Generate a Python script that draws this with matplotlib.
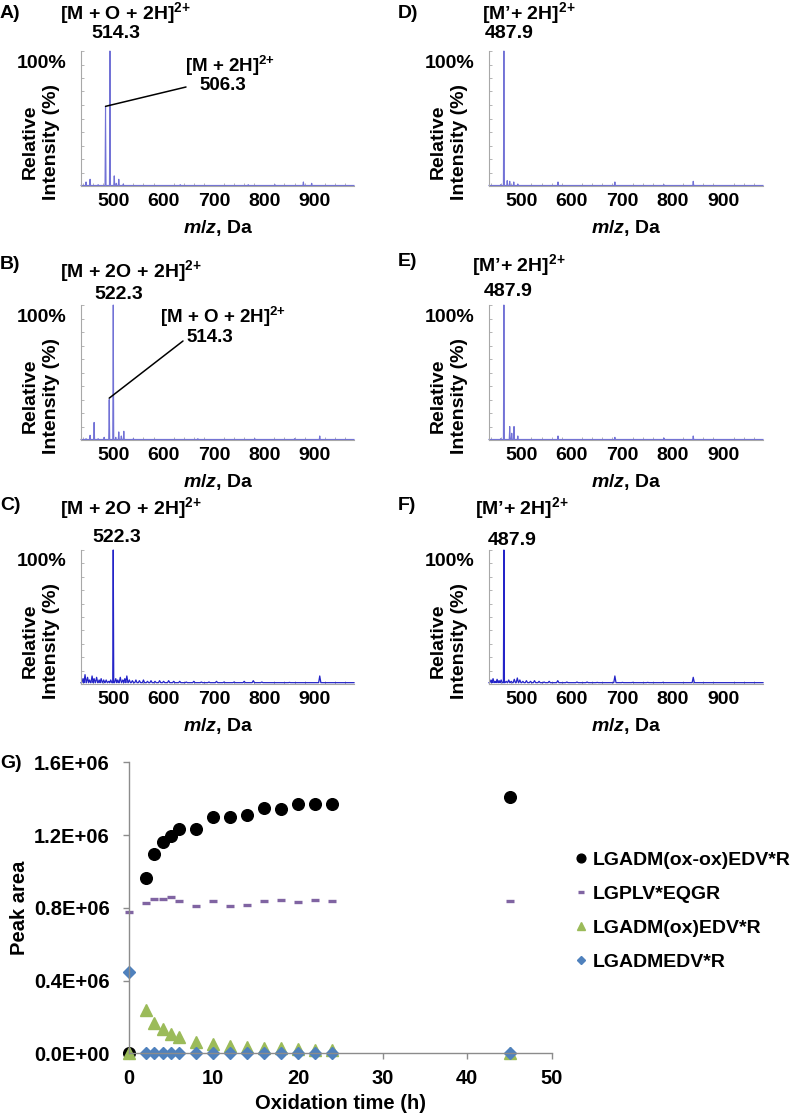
import numpy as np
import matplotlib
matplotlib.use('Agg')
import matplotlib.pyplot as plt

plt.rcParams['font.family'] = ['Liberation Sans', 'DejaVu Sans']
plt.rcParams['font.weight'] = 'bold'
plt.rcParams['mathtext.fontset'] = 'custom'
plt.rcParams['mathtext.rm'] = 'Liberation Sans:bold'
plt.rcParams['mathtext.it'] = 'Liberation Sans:italic:bold'
plt.rcParams['mathtext.bf'] = 'Liberation Sans:bold'

W, H = 793, 1118
XMIN, XMAX = 436, 978

# spectra: peak m/z (as drawn on the axis) and relative intensity
a_mz = [446, 454, 470, 484.7, 493.5, 502, 506, 511, 520, 633, 768, 821, 877.5, 894]
a_int = [0.03, 0.05, 0.01, 0.59, 1.00, 0.075, 0.02, 0.05, 0.015, 0.01, 0.01, 0.01, 0.03, 0.02]

b_mz = [446, 454, 462, 470, 482, 492, 500, 505, 511, 516, 521, 540, 668, 781, 860, 910]
b_int = [0.01, 0.035, 0.13, 0.01, 0.02, 0.30, 1.00, 0.02, 0.06, 0.03, 0.065, 0.01, 0.01, 0.01, 0.01, 0.03]

c_mz = [440, 444, 449, 453, 458, 462, 467, 472, 476, 481, 486, 491, 495, 500, 505, 509,
        514, 519, 523, 527, 532, 538, 545, 552, 560, 568, 575, 583, 592, 600, 610, 620,
        632, 645, 660, 675, 690, 705, 720, 740, 760, 778, 795, 820, 850, 880, 910, 940]
c_int = [0.04, 0.07, 0.05, 0.03, 0.06, 0.04, 0.05, 0.03, 0.04, 0.03, 0.03, 0.02, 0.03, 1.00, 0.04, 0.03,
         0.05, 0.03, 0.04, 0.06, 0.03, 0.025, 0.03, 0.025, 0.03, 0.02, 0.025, 0.02, 0.025, 0.02, 0.025, 0.02,
         0.02, 0.015, 0.02, 0.015, 0.015, 0.02, 0.015, 0.015, 0.02, 0.025, 0.015, 0.01, 0.012, 0.01, 0.06, 0.01]

d_mz = [459, 465.5, 472, 477, 485, 493, 572.5, 685, 782, 840]
d_int = [0.01, 1.00, 0.04, 0.035, 0.03, 0.015, 0.03, 0.03, 0.01, 0.035]

e_mz = [459, 465.5, 477, 481, 485.5, 493, 572.5, 685, 782, 840]
e_int = [0.01, 1.00, 0.10, 0.05, 0.10, 0.03, 0.03, 0.02, 0.015, 0.03]

f_mz = [440, 444, 448, 452, 456, 460, 465.5, 470, 475, 480, 486, 492, 497, 503, 510, 518,
        526, 535, 545, 555, 572, 590, 610, 630, 650, 685, 700, 720, 750, 780, 810, 840,
        870, 900, 940]
f_int = [0.03, 0.04, 0.02, 0.035, 0.025, 0.03, 1.00, 0.02, 0.03, 0.02, 0.035, 0.045, 0.03, 0.02, 0.025, 0.02,
         0.025, 0.02, 0.015, 0.02, 0.025, 0.015, 0.015, 0.015, 0.012, 0.06, 0.012, 0.012, 0.012, 0.012, 0.01, 0.05,
         0.01, 0.01, 0.01]

# G) peak area vs oxidation time
time_h = [0, 2, 3, 4, 5, 6, 8, 10, 12, 14, 16, 18, 20, 22, 24, 45]
ox_ox = [0, 0.966e6, 1.094e6, 1.164e6, 1.197e6, 1.234e6, 1.234e6, 1.301e6, 1.301e6, 1.310e6,
         1.347e6, 1.343e6, 1.369e6, 1.369e6, 1.371e6, 1.408e6]
lgplv = [0.775e6, 0.826e6, 0.848e6, 0.848e6, 0.857e6, 0.840e6, 0.812e6, 0.838e6, 0.808e6, 0.818e6,
         0.838e6, 0.842e6, 0.831e6, 0.844e6, 0.838e6, 0.840e6]
ox_one = [0, 0.238e6, 0.169e6, 0.132e6, 0.106e6, 0.088e6, 0.060e6, 0.051e6, 0.042e6, 0.037e6,
          0.031e6, 0.027e6, 0.024e6, 0.020e6, 0.018e6, 0]
native = [0.449e6, 0, 0, 0, 0, 0, 0, 0, 0, 0, 0, 0, 0, 0, 0, 0]
series_names = ['LGADM(ox-ox)EDV*R', 'LGPLV*EQGR', 'LGADM(ox)EDV*R', 'LGADMEDV*R']

fig = plt.figure(figsize=(W / 100, H / 100), dpi=100)

SUP = '$^{2{+}}$'


def ftext(x, y, s, ha='left', va='center', size=14, **kw):
    fig.text(x / W, 1 - y / H, s, ha=ha, va=va, fontsize=size, fontweight='bold', **kw)


def stick_line(mz, inten, base=0.004, hw=1.0):
    xs, ys = [XMIN], [base]
    for m, i in sorted(zip(mz, inten)):
        w = hw if i < 0.2 else 1.0
        xs += [m - w, m, m + w]
        ys += [base, i, base]
    xs.append(XMAX)
    ys.append(base)
    return xs, ys


def spectrum(box, mz, inten, color, lw, hw=1.0, base=0.004):
    l, t, r, b = box
    ax = fig.add_axes([l / W, 1 - b / H, (r - l) / W, (b - t) / H])
    xs, ys = stick_line(mz, inten, base=base, hw=hw)
    ax.plot(xs, ys, color=color, lw=lw, clip_on=False)
    ax.set_xlim(XMIN, XMAX)
    ax.set_ylim(0, 1.0)
    ax.spines[['top', 'right']].set_visible(False)
    for s in ['left', 'bottom']:
        ax.spines[s].set_color('#a8a8a8')
        ax.spines[s].set_linewidth(0.8)
    ax.set_xticks([500, 600, 700, 800, 900])
    ax.set_xticks(np.arange(440, 980, 20), minor=True)
    ax.set_yticks([])
    ax.set_yticks(np.arange(0.1, 1.01, 0.1), minor=True)
    ax.tick_params(axis='x', which='major', length=0, pad=5, labelsize=14)
    ax.tick_params(which='minor', direction='in', length=2, width=0.6, color='#a8a8a8')
    return ax


light = '#7272d6'
dark = '#2424c8'
sp_a = spectrum((81, 51, 354, 186), a_mz, a_int, light, 0.8)
sp_b = spectrum((81, 305, 354, 440), b_mz, b_int, light, 0.8)
sp_c = spectrum((81, 550, 354, 684), c_mz, c_int, dark, 0.9, hw=2.2, base=0.01)
sp_d = spectrum((489, 51, 763, 186), d_mz, d_int, light, 0.8)
sp_e = spectrum((489, 305, 763, 440), e_mz, e_int, light, 0.8)
sp_f = spectrum((489, 550, 763, 684), f_mz, f_int, dark, 0.9, hw=2.2, base=0.01)

# common labels of the spectra
for xl, xr, top, bot in [(0, 81, 51, 186), (0, 81, 305, 440), (0, 81, 550, 684),
                         (406, 489, 51, 186), (406, 489, 305, 440), (406, 489, 550, 684)]:
    ftext(xr - 15, top + 12, '100%', ha='right')
    ftext(xr - 40, top + 91, 'Relative\nIntensity (%)', ha='center', rotation=90,
          multialignment='center', linespacing=1.35)
    ftext(xr + 137, bot + 42, r'$\mathit{m/z}$, Da', ha='center')

ftext(0, 14, 'A)')
ftext(60, 13, '[M + O + 2H]' + SUP)
ftext(116, 34, '514.3', ha='center')
ftext(185, 66, '[M + 2H]' + SUP, size=13.5)
ftext(223, 86, '506.3', ha='center', size=13.5)
sp_a.annotate('', xy=(484.7, 0.59), xytext=(186 / W, 1 - 87 / H), textcoords='figure fraction',
              arrowprops=dict(arrowstyle='-', color='black', lw=1.1, shrinkA=0, shrinkB=0))

ftext(0, 265, 'B)')
ftext(60, 271, '[M + 2O + 2H]' + SUP)
ftext(119, 294, '522.3', ha='center')
ftext(160, 317, '[M + O + 2H]' + SUP, size=13.5)
ftext(210, 338, '514.3', ha='center', size=13.5)
sp_b.annotate('', xy=(492, 0.31), xytext=(183 / W, 1 - 341 / H), textcoords='figure fraction',
              arrowprops=dict(arrowstyle='-', color='black', lw=1.1, shrinkA=0, shrinkB=0))

ftext(0, 505, 'C)')
ftext(60, 508, '[M + 2O + 2H]' + SUP)
ftext(117, 538, '522.3', ha='center')

ftext(398, 13, 'D)')
ftext(482, 13, '[M’+ 2H]' + SUP)
ftext(509, 34, '487.9', ha='center')

ftext(398, 262, 'E)')
ftext(472, 265, '[M’+ 2H]' + SUP)
ftext(508, 292, '487.9', ha='center')

ftext(398, 505, 'F)')
ftext(475, 508, '[M’+ 2H]' + SUP)
ftext(512, 540, '487.9', ha='center')

# G panel
axg = fig.add_axes([128.7 / W, 1 - 1053.3 / H, (552 - 128.7) / W, (1053.3 - 762.3) / H])
axg.plot(time_h, ox_ox, 'o', color='black', ms=8.4, clip_on=False, label=series_names[0])
axg.plot(time_h, lgplv, '_', color='#8064A2', ms=5.2, mew=2.4, clip_on=False, label=series_names[1])
axg.plot(time_h, ox_one, '^', color='#9BBB59', ms=8, clip_on=False, label=series_names[2])
axg.plot(time_h, native, 'D', color='#4F81BD', ms=6, clip_on=False, label=series_names[3])
axg.set_xlim(0, 50)
axg.set_ylim(0, 1.6e6)
axg.set_xticks([0, 10, 20, 30, 40, 50])
axg.set_yticks([0, 0.4e6, 0.8e6, 1.2e6, 1.6e6])
axg.set_yticklabels(['0.0E+00', '0.4E+06', '0.8E+06', '1.2E+06', '1.6E+06'])
axg.spines[['top', 'right']].set_visible(False)
for s in ['left', 'bottom']:
    axg.spines[s].set_color('#8c8c8c')
    axg.spines[s].set_linewidth(1.0)
axg.tick_params(axis='both', length=4.5, width=1.0, color='#8c8c8c', labelsize=14.5)
axg.tick_params(axis='y', pad=9)
axg.tick_params(axis='x', pad=7)
axg.set_xlabel('Oxidation time (h)', fontsize=14.5, fontweight='bold', labelpad=4)
axg.set_ylabel('Peak area', fontsize=14.5, fontweight='bold')
axg.yaxis.set_label_coords(-(128.7 - 29) / (552 - 128.7), 0.5)
axg.legend(loc='upper left', bbox_to_anchor=(574 / W, 1 - 851 / H), bbox_transform=fig.transFigure,
           frameon=False, handlelength=0.7, handletextpad=0.25, labelspacing=0.85,
           borderpad=0, borderaxespad=0, fontsize=14, markerscale=0.75)
ftext(0, 763, 'G)')

fig.savefig('out.png', dpi=100)
